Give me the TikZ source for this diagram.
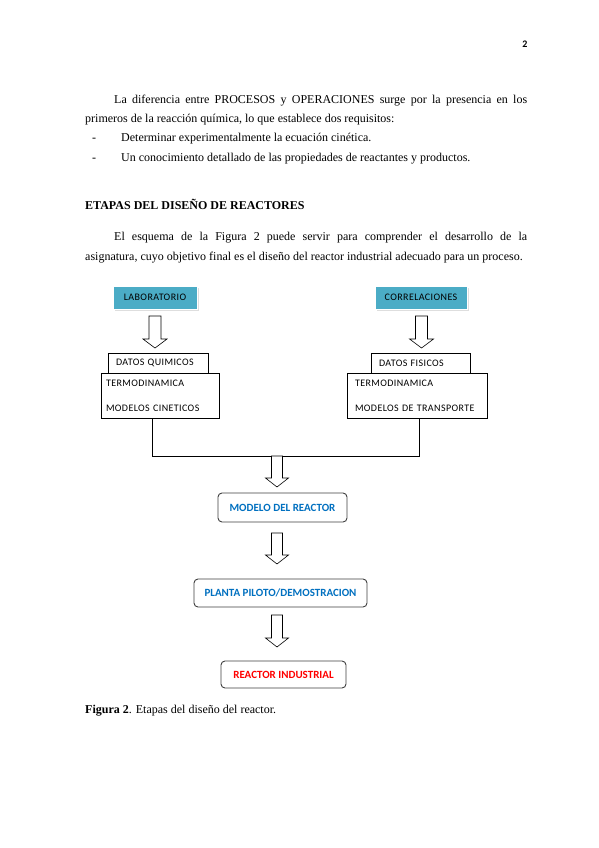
\documentclass[tikz,border=0pt]{standalone}
\usepackage{fontspec}
\setmainfont{Liberation Serif}
\newfontfamily\diagfont{Carlito}
\newfontfamily\diagwide[LetterSpace=4]{Carlito}
\usetikzlibrary{shadows}
\definecolor{tealfill}{HTML}{4BACC6}
\definecolor{stageblue}{HTML}{0070C0}
\definecolor{stagered}{HTML}{FF0000}
\tikzset{
  bodytext/.style={anchor=base west,inner sep=0pt,font=\fontsize{12}{14}\selectfont},
  srcbox/.style={fill=tealfill,draw=white,line width=0.8pt,minimum height=23pt,
    drop shadow={shadow xshift=2pt,shadow yshift=-2pt,fill=black!25},
    font=\diagwide\fontsize{10}{11}\selectfont},
  datbox/.style={draw,line width=0.6pt,minimum height=20pt,align=left,inner xsep=8pt,
    font=\diagwide\fontsize{10}{11}\selectfont},
  propbox/.style={draw,line width=0.6pt,minimum height=45pt,align=left,
    font=\diagwide\fontsize{10}{25}\selectfont},
  stagebox/.style={draw=black!75,line width=0.9pt,rounded corners=4pt,
    font=\diagfont\bfseries\fontsize{11}{12}\selectfont},
}
\begin{document}
\begin{tikzpicture}[x=1pt,y=-1pt]
\useasboundingbox[fill=white](0,0)rectangle(599,848);
% texto de la pagina
\node[anchor=base,inner sep=0pt,font=\diagfont\bfseries\fontsize{10}{12}\selectfont](pagenum)at(525,48){2};
\node[bodytext](p1a)at(114,103){\hbox to 413pt{La diferencia entre PROCESOS y OPERACIONES surge por la presencia en los}};
\node[bodytext](p1b)at(85,122){primeros de la reacción química, lo que establece dos requisitos:};
\node[bodytext](dash1)at(92,142){-};
\node[bodytext](req1)at(121,142){Determinar experimentalmente la ecuación cinética.};
\node[bodytext](dash2)at(92,161){-};
\node[bodytext](req2)at(121,161){Un conocimiento detallado de las propiedades de reactantes y productos.};
\node[bodytext,font=\bfseries\fontsize{12}{14}\selectfont](heading)at(85,209){ETAPAS DEL DISEÑO DE REACTORES};
\node[bodytext](p2a)at(114,240){\hbox to 413pt{El esquema de la Figura 2 puede servir para comprender el desarrollo de la}};
\node[bodytext](p2b)at(85,260){asignatura, cuyo objetivo final es el diseño del reactor industrial adecuado para un proceso.};
\node[bodytext](caption)at(85,713){\textbf{Figura 2}. Etapas del diseño del reactor.};
% fuentes de datos
\node[srcbox,minimum width=84pt](lab)at(155,297.5){LABORATORIO};
\node[srcbox,minimum width=92pt](corr)at(421,297.5){CORRELACIONES};
\node[datbox,text width=84pt](datq)at(158,363){DATOS QUIMICOS};
\node[datbox,text width=83pt](datf)at(420.5,363){DATOS FISICOS};
\node[propbox,text width=108pt,inner xsep=5pt](termL)at(160,395.5){TERMODINAMICA\\MODELOS CINETICOS};
\node[propbox,text width=124pt,inner xsep=8pt](termR)at(417,395.5){TERMODINAMICA\\MODELOS DE TRANSPORTE};
% etapas
\node[stagebox,text=stageblue,minimum width=129pt,minimum height=29pt](model)at(282.5,507.5){MODELO DEL REACTOR};
\node[stagebox,text=stageblue,minimum width=173pt,minimum height=28pt](pilot)at(280.5,593){PLANTA PILOTO/DEMOSTRACION};
\node[stagebox,text=stagered,minimum width=125pt,minimum height=27pt](indus)at(283.5,674.5){REACTOR INDUSTRIAL};
% union de las dos ramas
\coordinate(busL)at(152,456);
\coordinate(busR)at(419,456);
\draw[line width=0.6pt](busL|-termL.south)--(busL)--(busR)--(busR|-termR.south);
% flechas huecas
\foreach \x/\yt/\yb/\s/\h in {155/316/348/6/12,421.5/316/348/6/12,277/456/487/5.5/11.5,277/533/564/5.5/11.5,277/615/647/5.5/11.5}
  \draw[line width=0.6pt,fill=white]({\x-\s},\yt)--({\x+\s},\yt)--({\x+\s},{\yb-9})--({\x+\h},{\yb-9})
    --(\x,\yb)--({\x-\h},{\yb-9})--({\x-\s},{\yb-9})--cycle;
\end{tikzpicture}
\end{document}
